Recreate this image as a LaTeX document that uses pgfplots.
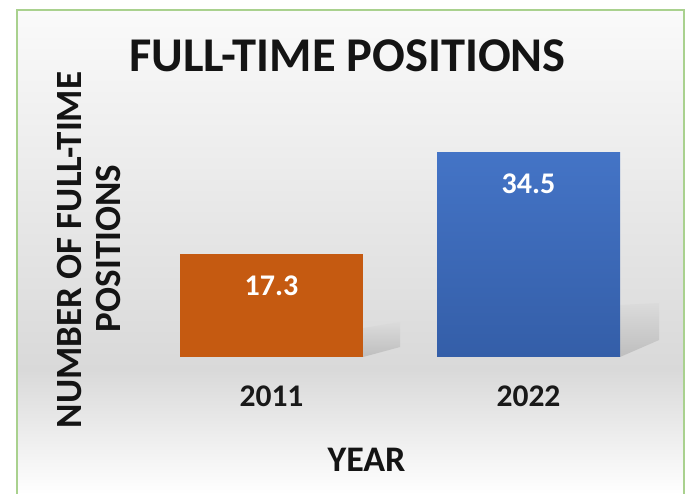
\documentclass[border=0pt]{standalone}
\usepackage{fontspec}
\setmainfont{Carlito}
\usepackage{pgfplots}
\pgfplotsset{compat=1.18}
\definecolor{barorange}{RGB}{197,90,17}
\definecolor{bluetop}{RGB}{68,116,198}
\definecolor{bluebot}{RGB}{52,94,168}
\definecolor{framegreen}{RGB}{169,209,142}
\definecolor{bgtop}{RGB}{250,250,250}
\definecolor{bgmid}{RGB}{217,217,217}
\definecolor{shdark}{RGB}{170,170,170}
\definecolor{shsoft}{RGB}{190,190,190}
\definecolor{shbg}{RGB}{219,219,219}
\begin{document}
\begin{tikzpicture}[x=1pt,y=1pt]
\useasboundingbox (0,0) rectangle (696,494);
\clip (0,0) rectangle (696,494);
\fill[white] (0,0) rectangle (696,494);
% chart area background
\shade[top color=bgtop, bottom color=bgmid] (17,484) rectangle (684,124);
\shade[top color=bgmid, bottom color=white] (17,124.2) rectangle (684,0);

\begin{axis}[
    at={(130.15pt,137pt)}, anchor=south west,
    scale only axis,
    width=539.7pt, height=237.6pt,
    xmin=-0.55, xmax=1.55,
    ymin=0, ymax=40,
    xtick={0,1}, xticklabels={2011,2022},
    ytick=\empty,
    axis line style={draw=none},
    major tick length=0pt,
    /pgf/number format/assume math mode=true,
    xticklabel style={anchor=center, yshift=-39pt, font=\fontsize{31.5}{33}\selectfont\bfseries, text=black!90},
    nodes near coords style={anchor=center, yshift=-32pt, text=white, font=\fontsize{30}{32}\selectfont\bfseries},
    clip=false,
]
% soft shadows behind the bars
\addplot[sharp plot, draw=none, top color=shbg, middle color=shdark, bottom color=shsoft]
    coordinates {(0.356,0) (0.356,4.88) (0.5,5.89) (0.5,1.68)} -- cycle;
\addplot[sharp plot, draw=none, top color=shbg, middle color=shdark, bottom color=shsoft]
    coordinates {(1.356,0) (1.356,8.75) (1.508,9.09) (1.508,2.86)} -- cycle;
% bars
\addplot[ybar, bar width=183pt, bar shift=0pt, fill=barorange, draw=none, nodes near coords]
    coordinates {(0,17.3)};
\addplot[ybar, bar width=183pt, bar shift=0pt, top color=bluetop, bottom color=bluebot, draw=none, nodes near coords]
    coordinates {(1,34.5)};
\end{axis}

% titles and axis labels
\node[font=\fontsize{48.5}{52}\selectfont\bfseries, text=black!92] at (347.5,438) {FULL-TIME POSITIONS};
\node[font=\fontsize{37}{40}\selectfont\bfseries, text=black!92, rotate=90] at (69.5,244) {NUMBER OF FULL-TIME};
\node[font=\fontsize{37}{40}\selectfont\bfseries, text=black!92, rotate=90] at (108.5,245.5) {POSITIONS};
\node[font=\fontsize{36}{38}\selectfont\bfseries, text=black!92] at (366.5,34) {YEAR};

\draw[framegreen, line width=2.5pt] (17,484) rectangle (684,-10);
\end{tikzpicture}
\end{document}
